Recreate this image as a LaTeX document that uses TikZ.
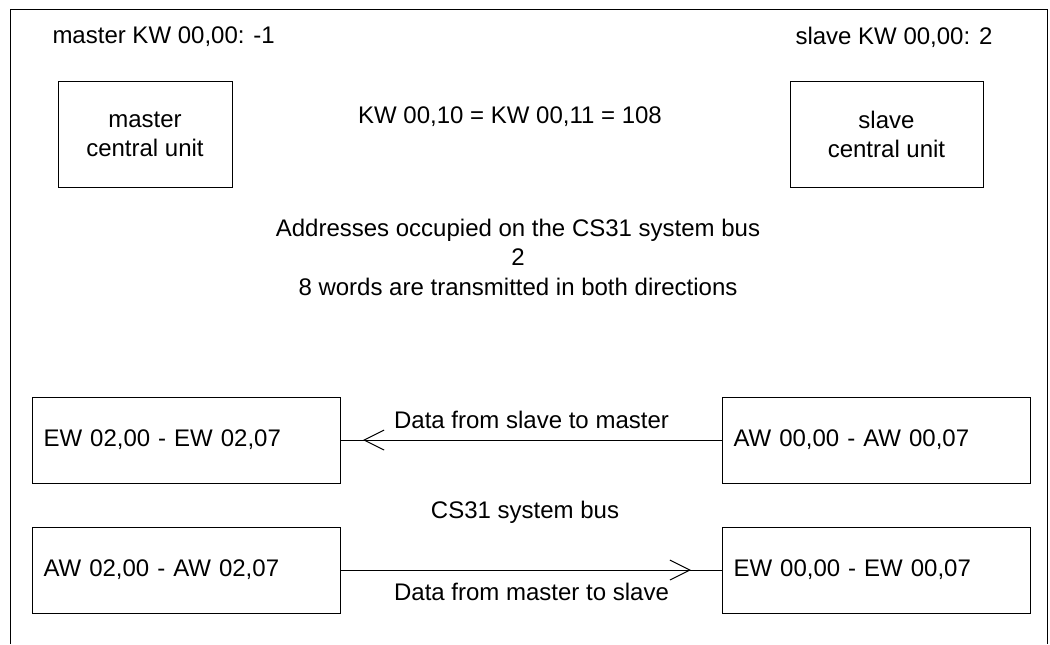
\documentclass[tikz,border=0pt]{standalone}
\usepackage{fontspec}
\setmainfont{Liberation Sans}
\usetikzlibrary{arrows.meta, decorations.markings}

\begin{document}
\begin{tikzpicture}[x=0.5pt, y=-0.5pt, line width=0.5pt,
    font=\fontsize{12}{14.5}\selectfont,
    regbox/.style={draw, text width=143pt, inner xsep=5.5pt, minimum height=43pt, align=left},
    cpubox/.style={draw, minimum height=53pt, align=center},
    barb/.style={postaction={decorate}, decoration={markings,
        mark=at position #1 with {\arrow{Straight Barb[length=10pt, width=10pt]}}}}]
\useasboundingbox (0,0) rectangle (1050,644);
\draw (10,644) |- (1047,9) -- (1047,644);

\node[anchor=west, inner sep=0pt] (mkw) at (52,37) {master KW 00,00: -1};
\node[anchor=east, inner sep=0pt] (skw) at (993,37) {slave KW 00,00: 2};
\node[cpubox, minimum width=87pt] (mcpu) at (145,134) {master\\central unit};
\node[cpubox, minimum width=96.5pt] (scpu) at (886.5,134) {slave\\central unit};
\node (kw) at (510,117) {KW 00,10 = KW 00,11 = 108};
\node[align=center, font=\fontsize{12}{14.75}\selectfont] (addr) at (518,257)
    {Addresses occupied on the CS31 system bus\\2\\8 words are transmitted in both directions};

\node[regbox] (ew2) at (186.5,440) {EW 02,00 - EW 02,07};
\node[regbox] (aw2) at (186.5,570) {AW 02,00 - AW 02,07};
\node[regbox] (aw0) at (876.5,440) {AW 00,00 - AW 00,07};
\node[regbox] (ew0) at (876.5,570) {EW 00,00 - EW 00,07};
\node (bus) at (525,512) {CS31 system bus};

\draw[barb=-11pt] (aw0) -- (ew2) node[midway, above=2pt] {Data from slave to master};
\draw[barb=-15.5pt] (aw2) -- (ew0) node[midway, below=3pt] {Data from master to slave};
\end{tikzpicture}
\end{document}
